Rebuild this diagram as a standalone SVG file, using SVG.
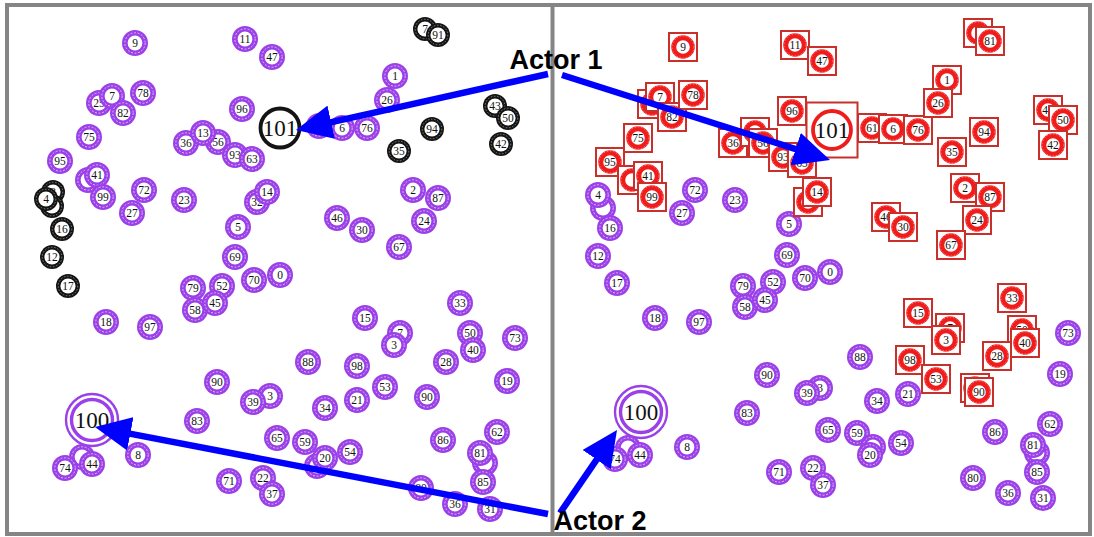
<svg xmlns="http://www.w3.org/2000/svg" xmlns:xlink="http://www.w3.org/1999/xlink" width="1094" height="537" viewBox="0 0 1094 537">
<style>
  .n text { font-family: "Liberation Serif", "DejaVu Serif", serif; font-size: 11.5px; text-anchor: middle; dominant-baseline: central; fill: #111; }
  .big text { font-size: 23px; }
  .frame { fill: #fff; stroke: #858585; stroke-width: 4; }
  .divider { stroke: #858585; stroke-width: 4; }
  .arrow { stroke: #0000ff; stroke-width: 6.5; fill: none; marker-end: url(#head); }
  .actor { font-family: "Liberation Sans", Arial, sans-serif; font-weight: bold; font-size: 27px; fill: #000; text-anchor: middle; }
</style>
<defs>
  <!-- purple ring node -->
  <g id="pn">
    <circle r="13" fill="#9b40e8"/>
    <circle r="7.4" fill="#fff"/>
    <circle r="10.2" fill="none" stroke="#e8d6fb" stroke-width="0.8" stroke-dasharray="2 1.6"/>
  </g>
  <!-- black ring node -->
  <g id="bn">
    <circle r="12" fill="#141414"/>
    <circle r="7.6" fill="#fff"/>
    <circle r="9.8" fill="none" stroke="#bdbdbd" stroke-width="0.6" stroke-dasharray="1.6 1.6"/>
  </g>
  <!-- red boxed node -->
  <g id="rn">
    <rect x="-14" y="-14" width="28" height="28" fill="#fff" stroke="#c8302c" stroke-width="2"/>
    <circle r="9.3" fill="none" stroke="#f01c1c" stroke-width="5"/>
    <circle r="11" fill="none" stroke="#ffb0b0" stroke-width="0.6" stroke-dasharray="1.6 1.6"/>
  </g>
  <marker id="head" viewBox="0 0 36 34" refX="10" refY="17" markerWidth="36" markerHeight="34" markerUnits="userSpaceOnUse" orient="auto">
    <path d="M0,0 L36,17 L0,34 z" fill="#0000ff"/>
  </marker>
</defs>

<rect class="frame" x="7" y="5" width="1083" height="529"/>
<line class="divider" x1="552.5" y1="5" x2="552.5" y2="534"/>

<!-- left view -->
<g id="left-nodes">
  <g id="L9" class="n" transform="translate(135 43)"><use href="#pn"/><text>9</text></g>
  <g id="L11" class="n" transform="translate(245 39)"><use href="#pn"/><text>11</text></g>
  <g id="L47" class="n" transform="translate(272 57)"><use href="#pn"/><text>47</text></g>
  <g id="L25" class="n" transform="translate(99 103)"><use href="#pn"/><text>25</text></g>
  <g id="L7" class="n" transform="translate(112 96)"><use href="#pn"/><text>7</text></g>
  <g id="L78" class="n" transform="translate(143 93)"><use href="#pn"/><text>78</text></g>
  <g id="L82" class="n" transform="translate(123 113)"><use href="#pn"/><text>82</text></g>
  <g id="L75" class="n" transform="translate(89 137)"><use href="#pn"/><text>75</text></g>
  <g id="L95" class="n" transform="translate(60 161)"><use href="#pn"/><text>95</text></g>
  <g id="L41b" class="n" transform="translate(88 180)"><use href="#pn"/></g>
  <g id="L41" class="n" transform="translate(97 175)"><use href="#pn"/><text>41</text></g>
  <g id="L99" class="n" transform="translate(103 197)"><use href="#pn"/><text>99</text></g>
  <g id="L72" class="n" transform="translate(144 190)"><use href="#pn"/><text>72</text></g>
  <g id="L27" class="n" transform="translate(132 213)"><use href="#pn"/><text>27</text></g>
  <g id="L36" class="n" transform="translate(186 143)"><use href="#pn"/><text>36</text></g>
  <g id="L56" class="n" transform="translate(218 142)"><use href="#pn"/><text>56</text></g>
  <g id="L13" class="n" transform="translate(203 133)"><use href="#pn"/><text>13</text></g>
  <g id="L93" class="n" transform="translate(235 155)"><use href="#pn"/><text>93</text></g>
  <g id="L63" class="n" transform="translate(252 159)"><use href="#pn"/><text>63</text></g>
  <g id="L23" class="n" transform="translate(184 200)"><use href="#pn"/><text>23</text></g>
  <g id="L96" class="n" transform="translate(242 109)"><use href="#pn"/><text>96</text></g>
  <g id="L61" class="n" transform="translate(319 126)"><use href="#pn"/><text>61</text></g>
  <g id="L6" class="n" transform="translate(342 128)"><use href="#pn"/><text>6</text></g>
  <g id="L76" class="n" transform="translate(367 128)"><use href="#pn"/><text>76</text></g>
  <g id="L1" class="n" transform="translate(395 76)"><use href="#pn"/><text>1</text></g>
  <g id="L26" class="n" transform="translate(387 100)"><use href="#pn"/><text>26</text></g>
  <g id="L32" class="n" transform="translate(257 202)"><use href="#pn"/><text>32</text></g>
  <g id="L14" class="n" transform="translate(267 192)"><use href="#pn"/><text>14</text></g>
  <g id="L5" class="n" transform="translate(238 227)"><use href="#pn"/><text>5</text></g>
  <g id="L69" class="n" transform="translate(235 257)"><use href="#pn"/><text>69</text></g>
  <g id="L46" class="n" transform="translate(337 218)"><use href="#pn"/><text>46</text></g>
  <g id="L30" class="n" transform="translate(362 230)"><use href="#pn"/><text>30</text></g>
  <g id="L2" class="n" transform="translate(413 190)"><use href="#pn"/><text>2</text></g>
  <g id="L87" class="n" transform="translate(438 198)"><use href="#pn"/><text>87</text></g>
  <g id="L24" class="n" transform="translate(424 221)"><use href="#pn"/><text>24</text></g>
  <g id="L67" class="n" transform="translate(399 247)"><use href="#pn"/><text>67</text></g>
  <g id="L18" class="n" transform="translate(106 322)"><use href="#pn"/><text>18</text></g>
  <g id="L97" class="n" transform="translate(150 327)"><use href="#pn"/><text>97</text></g>
  <g id="L79" class="n" transform="translate(193 288)"><use href="#pn"/><text>79</text></g>
  <g id="L52" class="n" transform="translate(222 286)"><use href="#pn"/><text>52</text></g>
  <g id="L58" class="n" transform="translate(195 310)"><use href="#pn"/><text>58</text></g>
  <g id="L45" class="n" transform="translate(215 303)"><use href="#pn"/><text>45</text></g>
  <g id="L70" class="n" transform="translate(254 280)"><use href="#pn"/><text>70</text></g>
  <g id="L0" class="n" transform="translate(280 275)"><use href="#pn"/><text>0</text></g>
  <g id="L100" class="n big" transform="translate(92 420)">
    <circle r="26" fill="#fff" stroke="#9b40e8" stroke-width="2.4"/>
    <circle r="20.5" fill="#fff" stroke="#9b40e8" stroke-width="3.4"/>
    <text>100</text>
  </g>
  <g id="L64" class="n" transform="translate(82 457)"><use href="#pn"/></g>
  <g id="L74" class="n" transform="translate(65 468)"><use href="#pn"/><text>74</text></g>
  <g id="L44" class="n" transform="translate(92 464)"><use href="#pn"/><text>44</text></g>
  <g id="L8" class="n" transform="translate(138 455)"><use href="#pn"/><text>8</text></g>
  <g id="L15" class="n" transform="translate(365 318)"><use href="#pn"/><text>15</text></g>
  <g id="L88" class="n" transform="translate(308 362)"><use href="#pn"/><text>88</text></g>
  <g id="L98" class="n" transform="translate(357 366)"><use href="#pn"/><text>98</text></g>
  <g id="L90" class="n" transform="translate(217 382)"><use href="#pn"/><text>90</text></g>
  <g id="L3a" class="n" transform="translate(270 396)"><use href="#pn"/><text>3</text></g>
  <g id="L39" class="n" transform="translate(253 402)"><use href="#pn"/><text>39</text></g>
  <g id="L34" class="n" transform="translate(325 408)"><use href="#pn"/><text>34</text></g>
  <g id="L21" class="n" transform="translate(357 400)"><use href="#pn"/><text>21</text></g>
  <g id="L83" class="n" transform="translate(197 421)"><use href="#pn"/><text>83</text></g>
  <g id="L65" class="n" transform="translate(277 438)"><use href="#pn"/><text>65</text></g>
  <g id="L59" class="n" transform="translate(305 442)"><use href="#pn"/><text>59</text></g>
  <g id="L20b" class="n" transform="translate(317 466)"><use href="#pn"/></g>
  <g id="L20" class="n" transform="translate(325 458)"><use href="#pn"/><text>20</text></g>
  <g id="L54" class="n" transform="translate(350 452)"><use href="#pn"/><text>54</text></g>
  <g id="L71" class="n" transform="translate(229 481)"><use href="#pn"/><text>71</text></g>
  <g id="L22" class="n" transform="translate(263 478)"><use href="#pn"/><text>22</text></g>
  <g id="L37" class="n" transform="translate(272 494)"><use href="#pn"/><text>37</text></g>
  <g id="L33" class="n" transform="translate(460 303)"><use href="#pn"/><text>33</text></g>
  <g id="L7b" class="n" transform="translate(400 333)"><use href="#pn"/><text>7</text></g>
  <g id="L3" class="n" transform="translate(394 345)"><use href="#pn"/><text>3</text></g>
  <g id="L50" class="n" transform="translate(470 333)"><use href="#pn"/><text>50</text></g>
  <g id="L40" class="n" transform="translate(473 350)"><use href="#pn"/><text>40</text></g>
  <g id="L73" class="n" transform="translate(515 338)"><use href="#pn"/><text>73</text></g>
  <g id="L28" class="n" transform="translate(446 362)"><use href="#pn"/><text>28</text></g>
  <g id="L19" class="n" transform="translate(507 381)"><use href="#pn"/><text>19</text></g>
  <g id="L53" class="n" transform="translate(385 387)"><use href="#pn"/><text>53</text></g>
  <g id="L90b" class="n" transform="translate(427 397)"><use href="#pn"/><text>90</text></g>
  <g id="L86" class="n" transform="translate(443 440)"><use href="#pn"/><text>86</text></g>
  <g id="L62" class="n" transform="translate(497 432)"><use href="#pn"/><text>62</text></g>
  <g id="L81b" class="n" transform="translate(485 463)"><use href="#pn"/></g>
  <g id="L81" class="n" transform="translate(480 453)"><use href="#pn"/><text>81</text></g>
  <g id="L85" class="n" transform="translate(483 482)"><use href="#pn"/><text>85</text></g>
  <g id="L80" class="n" transform="translate(421 488)"><use href="#pn"/><text>80</text></g>
  <g id="L36b" class="n" transform="translate(455 504)"><use href="#pn"/><text>36</text></g>
  <g id="L31" class="n" transform="translate(490 509)"><use href="#pn"/><text>31</text></g>

  <g id="L29" class="n" transform="translate(425 29)"><use href="#bn"/><text>7</text></g>
  <g id="L91" class="n" transform="translate(438 35)"><use href="#bn"/><text>91</text></g>
  <g id="L94" class="n" transform="translate(432 129)"><use href="#bn"/><text>94</text></g>
  <g id="L35" class="n" transform="translate(399 151)"><use href="#bn"/><text>35</text></g>
  <g id="L43" class="n" transform="translate(495 106)"><use href="#bn"/><text>43</text></g>
  <g id="L50k" class="n" transform="translate(508 118)"><use href="#bn"/><text>50</text></g>
  <g id="L42" class="n" transform="translate(501 144)"><use href="#bn"/><text>42</text></g>
  <g id="L4a" class="n" transform="translate(53 192)"><use href="#bn"/><text>3</text></g>
  <g id="L4b" class="n" transform="translate(52 206)"><use href="#bn"/></g>
  <g id="L4" class="n" transform="translate(46 199)"><use href="#bn"/><text>4</text></g>
  <g id="L16" class="n" transform="translate(62 229)"><use href="#bn"/><text>16</text></g>
  <g id="L12" class="n" transform="translate(52 257)"><use href="#bn"/><text>12</text></g>
  <g id="L17" class="n" transform="translate(68 286)"><use href="#bn"/><text>17</text></g>
  <g id="L101" class="n big" transform="translate(280 128)">
    <circle r="19.5" fill="#fff" stroke="#141414" stroke-width="3.8"/>
    <text>101</text>
  </g>
</g>

<!-- right view -->
<g id="right-nodes">
  <g id="R4a" class="n" transform="translate(603 208)"><use href="#pn"/></g>
  <g id="R4" class="n" transform="translate(598 195)"><use href="#pn"/><text>4</text></g>
  <g id="R16" class="n" transform="translate(610 228)"><use href="#pn"/><text>16</text></g>
  <g id="R12" class="n" transform="translate(598 256)"><use href="#pn"/><text>12</text></g>
  <g id="R17" class="n" transform="translate(617 283)"><use href="#pn"/><text>17</text></g>
  <g id="R72" class="n" transform="translate(695 190)"><use href="#pn"/><text>72</text></g>
  <g id="R27" class="n" transform="translate(682 213)"><use href="#pn"/><text>27</text></g>
  <g id="R23" class="n" transform="translate(735 200)"><use href="#pn"/><text>23</text></g>
  <g id="R5" class="n" transform="translate(789 224)"><use href="#pn"/><text>5</text></g>
  <g id="R69" class="n" transform="translate(787 255)"><use href="#pn"/><text>69</text></g>
  <g id="R79" class="n" transform="translate(743 286)"><use href="#pn"/><text>79</text></g>
  <g id="R52" class="n" transform="translate(773 282)"><use href="#pn"/><text>52</text></g>
  <g id="R58" class="n" transform="translate(745 307)"><use href="#pn"/><text>58</text></g>
  <g id="R45" class="n" transform="translate(765 300)"><use href="#pn"/><text>45</text></g>
  <g id="R70" class="n" transform="translate(805 278)"><use href="#pn"/><text>70</text></g>
  <g id="R0" class="n" transform="translate(830 272)"><use href="#pn"/><text>0</text></g>
  <g id="R18" class="n" transform="translate(655 318)"><use href="#pn"/><text>18</text></g>
  <g id="R97" class="n" transform="translate(699 322)"><use href="#pn"/><text>97</text></g>
  <g id="R100" class="n big" transform="translate(641 412)">
    <circle r="26" fill="#fff" stroke="#9b40e8" stroke-width="2.4"/>
    <circle r="20.5" fill="#fff" stroke="#9b40e8" stroke-width="3.4"/>
    <text>100</text>
  </g>
  <g id="R64" class="n" transform="translate(628 448)"><use href="#pn"/></g>
  <g id="R74" class="n" transform="translate(615 459)"><use href="#pn"/><text>74</text></g>
  <g id="R44" class="n" transform="translate(640 455)"><use href="#pn"/><text>44</text></g>
  <g id="R8" class="n" transform="translate(687 447)"><use href="#pn"/><text>8</text></g>
  <g id="R88" class="n" transform="translate(860 357)"><use href="#pn"/><text>88</text></g>
  <g id="R90" class="n" transform="translate(767 375)"><use href="#pn"/><text>90</text></g>
  <g id="R3a" class="n" transform="translate(820 388)"><use href="#pn"/><text>3</text></g>
  <g id="R39" class="n" transform="translate(807 393)"><use href="#pn"/><text>39</text></g>
  <g id="R34" class="n" transform="translate(877 401)"><use href="#pn"/><text>34</text></g>
  <g id="R21" class="n" transform="translate(908 394)"><use href="#pn"/><text>21</text></g>
  <g id="R83" class="n" transform="translate(747 413)"><use href="#pn"/><text>83</text></g>
  <g id="R65" class="n" transform="translate(828 430)"><use href="#pn"/><text>65</text></g>
  <g id="R59" class="n" transform="translate(857 433)"><use href="#pn"/><text>59</text></g>
  <g id="R20b" class="n" transform="translate(873 447)"><use href="#pn"/></g>
  <g id="R20" class="n" transform="translate(870 455)"><use href="#pn"/><text>20</text></g>
  <g id="R54" class="n" transform="translate(901 443)"><use href="#pn"/><text>54</text></g>
  <g id="R71" class="n" transform="translate(779 472)"><use href="#pn"/><text>71</text></g>
  <g id="R22" class="n" transform="translate(813 468)"><use href="#pn"/><text>22</text></g>
  <g id="R37" class="n" transform="translate(823 485)"><use href="#pn"/><text>37</text></g>
  <g id="R73" class="n" transform="translate(1068 333)"><use href="#pn"/><text>73</text></g>
  <g id="R19" class="n" transform="translate(1060 374)"><use href="#pn"/><text>19</text></g>
  <g id="R62" class="n" transform="translate(1050 424)"><use href="#pn"/><text>62</text></g>
  <g id="R86" class="n" transform="translate(995 432)"><use href="#pn"/><text>86</text></g>
  <g id="R81b" class="n" transform="translate(1037 453)"><use href="#pn"/></g>
  <g id="R81" class="n" transform="translate(1033 445)"><use href="#pn"/><text>81</text></g>
  <g id="R85" class="n" transform="translate(1037 472)"><use href="#pn"/><text>85</text></g>
  <g id="R80" class="n" transform="translate(973 478)"><use href="#pn"/><text>80</text></g>
  <g id="R36b" class="n" transform="translate(1008 493)"><use href="#pn"/><text>36</text></g>
  <g id="R31" class="n" transform="translate(1043 498)"><use href="#pn"/><text>31</text></g>

  <g id="R9" class="n" transform="translate(683 47)"><use href="#rn"/><text>9</text></g>
  <g id="R25" class="n" transform="translate(652 104)"><use href="#rn"/><text>25</text></g>
  <g id="R7" class="n" transform="translate(660 97)"><use href="#rn"/><text>7</text></g>
  <g id="R82" class="n" transform="translate(672 117)"><use href="#rn"/><text>82</text></g>
  <g id="R78" class="n" transform="translate(693 95)"><use href="#rn"/><text>78</text></g>
  <g id="R75" class="n" transform="translate(638 138)"><use href="#rn"/><text>75</text></g>
  <g id="R95" class="n" transform="translate(610 162)"><use href="#rn"/><text>95</text></g>
  <g id="R41b" class="n" transform="translate(632 180)"><use href="#rn"/></g>
  <g id="R41" class="n" transform="translate(648 176)"><use href="#rn"/><text>41</text></g>
  <g id="R99" class="n" transform="translate(652 197)"><use href="#rn"/><text>99</text></g>
  <g id="R11" class="n" transform="translate(795 45)"><use href="#rn"/><text>11</text></g>
  <g id="R47" class="n" transform="translate(822 61)"><use href="#rn"/><text>47</text></g>
  <g id="R96" class="n" transform="translate(792 111)"><use href="#rn"/><text>96</text></g>
  <g id="R36" class="n" transform="translate(733 143)"><use href="#rn"/><text>36</text></g>
  <g id="R13" class="n" transform="translate(755 132)"><use href="#rn"/><text>13</text></g>
  <g id="R56" class="n" transform="translate(763 143)"><use href="#rn"/><text>56</text></g>
  <g id="R93" class="n" transform="translate(783 157)"><use href="#rn"/><text>93</text></g>
  <g id="R63" class="n" transform="translate(802 163)"><use href="#rn"/><text>63</text></g>
  <g id="R32" class="n" transform="translate(808 202)"><use href="#rn"/><text>32</text></g>
  <g id="R14" class="n" transform="translate(817 192)"><use href="#rn"/><text>14</text></g>
  <g id="R101" class="n big" transform="translate(832 130)">
    <rect x="-25.5" y="-27.5" width="51" height="55" fill="#fff" stroke="#c8302c" stroke-width="2"/>
    <circle r="19" fill="#fff" stroke="#f01c1c" stroke-width="3.8"/>
    <text>101</text>
  </g>
  <g id="R61" class="n" transform="translate(872 128)"><use href="#rn"/><text>61</text></g>
  <g id="R6" class="n" transform="translate(893 129)"><use href="#rn"/><text>6</text></g>
  <g id="R76" class="n" transform="translate(918 130)"><use href="#rn"/><text>76</text></g>
  <g id="R46" class="n" transform="translate(886 217)"><use href="#rn"/><text>46</text></g>
  <g id="R30" class="n" transform="translate(903 227)"><use href="#rn"/><text>30</text></g>
  <g id="R29" class="n" transform="translate(978 33)"><use href="#rn"/><text>9</text></g>
  <g id="R91" class="n" transform="translate(990 41)"><use href="#rn"/><text>81</text></g>
  <g id="R1" class="n" transform="translate(947 80)"><use href="#rn"/><text>1</text></g>
  <g id="R26" class="n" transform="translate(938 103)"><use href="#rn"/><text>26</text></g>
  <g id="R94" class="n" transform="translate(984 132)"><use href="#rn"/><text>94</text></g>
  <g id="R35" class="n" transform="translate(952 152)"><use href="#rn"/><text>35</text></g>
  <g id="R43" class="n" transform="translate(1048 110)"><use href="#rn"/><text>43</text></g>
  <g id="R50k" class="n" transform="translate(1063 120)"><use href="#rn"/><text>50</text></g>
  <g id="R42" class="n" transform="translate(1053 145)"><use href="#rn"/><text>42</text></g>
  <g id="R2" class="n" transform="translate(965 188)"><use href="#rn"/><text>2</text></g>
  <g id="R87" class="n" transform="translate(990 197)"><use href="#rn"/><text>87</text></g>
  <g id="R24" class="n" transform="translate(977 220)"><use href="#rn"/><text>24</text></g>
  <g id="R67" class="n" transform="translate(951 245)"><use href="#rn"/><text>67</text></g>
  <g id="R15" class="n" transform="translate(918 313)"><use href="#rn"/><text>15</text></g>
  <g id="R7b" class="n" transform="translate(950 328)"><use href="#rn"/><text>7</text></g>
  <g id="R3" class="n" transform="translate(946 340)"><use href="#rn"/><text>3</text></g>
  <g id="R33" class="n" transform="translate(1012 298)"><use href="#rn"/><text>33</text></g>
  <g id="R50" class="n" transform="translate(1022 330)"><use href="#rn"/><text>50</text></g>
  <g id="R40" class="n" transform="translate(1025 343)"><use href="#rn"/><text>40</text></g>
  <g id="R28" class="n" transform="translate(997 356)"><use href="#rn"/><text>28</text></g>
  <g id="R98" class="n" transform="translate(910 360)"><use href="#rn"/><text>98</text></g>
  <g id="R53" class="n" transform="translate(936 379)"><use href="#rn"/><text>53</text></g>
  <g id="R90c" class="n" transform="translate(975 388)"><use href="#rn"/></g>
  <g id="R90b" class="n" transform="translate(979 392)"><use href="#rn"/><text>90</text></g>
</g>

<!-- actor pointers -->
<g id="connectors">
  <line class="arrow" x1="548" y1="74" x2="321.4" y2="124.4"/>
  <line class="arrow" x1="562" y1="75" x2="805.2" y2="152.1"/>
  <line class="arrow" x1="548" y1="514" x2="120.5" y2="431.9"/>
  <line class="arrow" x1="560" y1="513" x2="602.3" y2="451.4"/>
</g>
<g id="actor-labels">
  <text class="actor" x="556" y="69">Actor 1</text>
  <text class="actor" x="600" y="530">Actor 2</text>
</g>
</svg>
